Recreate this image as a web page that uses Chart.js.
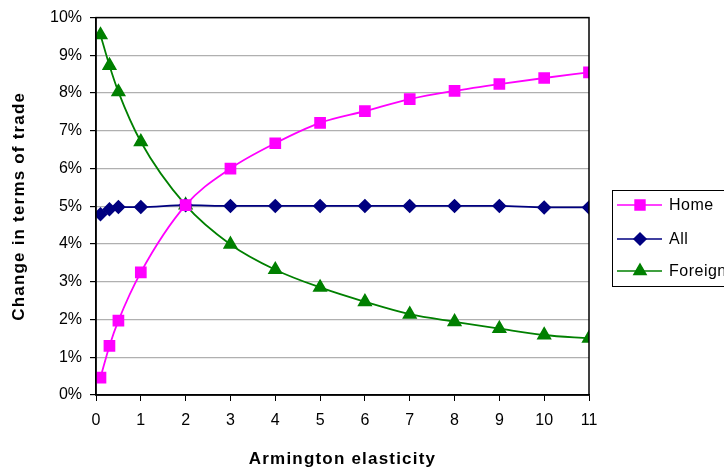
<!DOCTYPE html>
<html lang="en">
<head>
  <meta charset="UTF-8">
  <title>Terms of trade</title>
  <script src="https://cdn.jsdelivr.net/npm/chart.js"></script>
  <style>
    body { margin: 0; background: #fff; }
    #wrap { width: 724px; height: 470px; }
  </style>
</head>
<body>
  <div id="wrap"><canvas id="tradeChart"></canvas></div>
  <script>
    // Armington elasticity values where markers sit
    var elasticity = [0.1, 0.3, 0.5, 1, 2, 3, 4, 5, 6, 7, 8, 9, 10, 11];
    var homeVals    = [0.46, 1.30, 1.97, 3.25, 5.03, 6.00, 6.67, 7.21, 7.52, 7.84, 8.06, 8.24, 8.40, 8.55];
    var allVals     = [4.79, 4.92, 4.98, 4.98, 5.03, 5.01, 5.01, 5.01, 5.01, 5.01, 5.01, 5.01, 4.97, 4.97];
    var foreignVals = [9.54, 8.73, 8.03, 6.71, 5.03, 3.99, 3.32, 2.85, 2.47, 2.14, 1.94, 1.76, 1.59, 1.50];
    var xTicks = [0, 1, 2, 3, 4, 5, 6, 7, 8, 9, 10, 11];
    var xTitle = 'Armington elasticity';
    var yTitle = 'Change in terms of trade';

    function toPoints(vals) {
      return vals.map(function (v, i) { return { x: elasticity[i], y: v / 100 }; });
    }

    var font = "'Liberation Sans', Arial, sans-serif";

    // frame, axis titles (excel spaces letters out) and the legend box
    var excelBits = {
      id: 'excelBits',
      afterDraw: function (chart) {
        var ctx = chart.ctx, a = chart.chartArea;
        ctx.save();
        ctx.strokeStyle = '#000';
        ctx.lineWidth = 1.5;
        ctx.strokeRect(a.left, a.top, a.right - a.left, a.bottom - a.top);

        ctx.fillStyle = '#000';
        ctx.font = 'bold 17px ' + font;
        ctx.letterSpacing = '1.2px';
        ctx.textAlign = 'center';
        ctx.textBaseline = 'middle';
        ctx.fillText(xTitle, (a.left + a.right) / 2, 459);
        ctx.save();
        ctx.translate(19, (a.top + a.bottom) / 2);
        ctx.rotate(-Math.PI / 2);
        ctx.fillText(yTitle, 0, 0);
        ctx.restore();

        // legend
        ctx.lineWidth = 1;
        ctx.strokeRect(612.5, 190.5, 130, 96);
        var rows = [205, 239, 271];
        chart.data.datasets.forEach(function (ds, i) {
          var y = rows[i];
          ctx.strokeStyle = ds.borderColor;
          ctx.lineWidth = 1.5;
          ctx.beginPath();
          ctx.moveTo(617, y);
          ctx.lineTo(662, y);
          ctx.stroke();
          Chart.helpers.drawPoint(ctx, {
            pointStyle: ds.pointStyle, radius: ds.pointRadius, borderWidth: 1
          }, 640, y);
          ctx.fillStyle = ds.backgroundColor;
          ctx.fill();
          ctx.fillStyle = '#000';
          ctx.font = '16px ' + font;
          ctx.letterSpacing = '0.5px';
          ctx.textAlign = 'left';
          ctx.textBaseline = 'middle';
          ctx.fillText(ds.label, 669, y + 1);
        });
        ctx.restore();
      }
    };

    var ctx = document.getElementById('tradeChart').getContext('2d');
    var tradeChart = new Chart(ctx, {
      type: 'line',
      data: {
        datasets: [
          { label: 'Home', data: toPoints(homeVals), borderColor: '#FF00FF', backgroundColor: '#FF00FF',
            pointStyle: 'rect', pointRadius: 7, borderWidth: 1.8 },
          { label: 'All', data: toPoints(allVals), borderColor: '#000080', backgroundColor: '#000080',
            pointStyle: 'rectRot', pointRadius: 6, borderWidth: 1.8 },
          { label: 'Foreign', data: toPoints(foreignVals), borderColor: '#008000', backgroundColor: '#008000',
            pointStyle: 'triangle', pointRadius: 7, borderWidth: 1.8 }
        ]
      },
      options: {
        responsive: true,
        maintainAspectRatio: false,
        animation: false,
        layout: { padding: { top: 17, right: 135, bottom: 0, left: 0 } },
        elements: { point: { borderWidth: 1, hoverRadius: 7 }, line: { cubicInterpolationMode: 'monotone' } },
        plugins: { legend: { display: false }, tooltip: { enabled: false } },
        scales: {
          x: {
            type: 'linear', min: 0, max: 11,
            afterFit: function (s) { s.height = 75; },
            afterBuildTicks: function (s) { s.ticks = xTicks.map(function (v) { return { value: v }; }); },
            grid: { drawOnChartArea: false, drawTicks: true, tickLength: 6, color: '#000' },
            border: { color: '#000', width: 1.5 },
            ticks: { color: '#000', font: { family: font, size: 16 }, padding: 10 }
          },
          y: {
            min: 0, max: 0.1,
            afterFit: function (s) { s.width = 96; },
            grid: { color: '#b0b0b0', lineWidth: 1.2, tickColor: '#000', tickLength: 6 },
            border: { color: '#000', width: 1.5 },
            ticks: { stepSize: 0.01, color: '#000', font: { family: font, size: 16 }, padding: 8,
              callback: function (v) { return Math.round(v * 100) + '%'; } }
          }
        }
      },
      plugins: [excelBits]
    });
  </script>
</body>
</html>
